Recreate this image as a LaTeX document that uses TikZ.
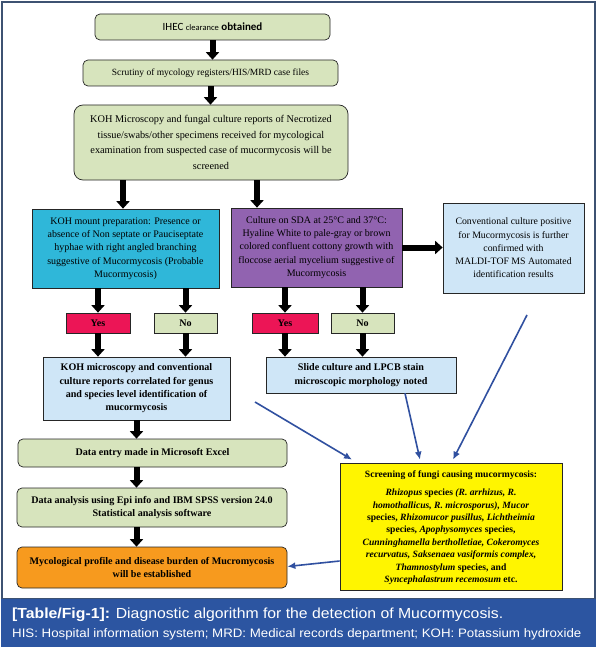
\documentclass[tikz,border=0pt]{standalone}
\usepackage{fontspec}
\setmainfont{Liberation Serif}
\newfontfamily\calfont{Carlito}
\newfontfamily\capfont[FakeStretch=1.08]{Liberation Sans}
\usetikzlibrary{arrows.meta,calc}
\definecolor{gbox}{HTML}{D7E4BD}
\definecolor{cyanbox}{HTML}{2FB7D9}
\definecolor{purplebox}{HTML}{9163B0}
\definecolor{lbbox}{HTML}{CFE6F7}
\definecolor{redbox}{HTML}{EC1556}
\definecolor{yelbox}{HTML}{FFF500}
\definecolor{orbox}{HTML}{F79A1E}
\definecolor{capblue}{HTML}{2C55A1}
\definecolor{framecol}{HTML}{3D5272}
\definecolor{bluearrow}{HTML}{3050A0}
\tikzset{
  box/.style={draw=black!85, line width=0.7pt, align=center, inner sep=2pt},
  rbox/.style={box, rounded corners=5pt},
  blk/.style={line width=6pt, black, -{Triangle[width=13pt,length=7.5pt]}},
  blu/.style={line width=1.6pt, bluearrow, -{Latex[length=8pt,width=7pt]}},
  ftxt/.style={font=\fontsize{10}{13.3}\selectfont},
  btxt/.style={font=\bfseries\fontsize{10.1}{13.3}\selectfont},
}
\begin{document}
\begin{tikzpicture}[x=1pt,y=-1pt]
\useasboundingbox (0,0) rectangle (597,650);
\fill[white] (0,0) rectangle (597,650);
\draw[framecol, line width=1.4pt] (2,2) rectangle (595,599);
\fill[capblue] (1.3,599) rectangle (595.7,647);

% boxes
\node[rbox, fill=gbox, minimum width=235pt, minimum height=26pt] (ihec) at (212.5,27)
  {\calfont\fontsize{11}{13}\selectfont IHEC {\fontsize{8.5}{10}\selectfont clearance} \textbf{obtained}};
\node[rbox, fill=gbox, font=\fontsize{9.5}{13}\selectfont, minimum width=255pt, minimum height=26pt] (scr) at (210.5,73)
  {Scrutiny of mycology registers/HIS/MRD case files};
\node[box, rounded corners=9pt, fill=gbox, font=\fontsize{10.3}{15.5}\selectfont, minimum width=274pt, minimum height=75pt] (kohm) at (211,142.5)
  {KOH Microscopy and fungal culture reports of Necrotized\\tissue/swabs/other specimens received for mycological\\examination from suspected case of mucormycosis will be\\screened};
\node[box, fill=cyanbox, ftxt, minimum width=187pt, minimum height=79pt] (mount) at (125.5,248.5)
  {KOH mount preparation: Presence or\\absence of Non septate or Pauciseptate\\hyphae with right angled branching\\suggestive of Mucormycosis (Probable\\Mucormycosis)};
\node[box, fill=purplebox, ftxt, minimum width=171pt, minimum height=79pt] (cult) at (316.5,247.5)
  {Culture on SDA at 25°C and 37°C:\\Hyaline White to pale-gray or brown\\colored confluent cottony growth with\\floccose aerial mycelium suggestive of\\Mucormycosis};
\node[box, fill=lbbox, font=\fontsize{9.8}{13.2}\selectfont, minimum width=141pt, minimum height=90pt] (conv) at (513.5,248)
  {Conventional culture positive\\for Mucormycosis is further\\confirmed with\\MALDI-TOF MS Automated\\identification results};
\node[box, fill=redbox, btxt, minimum width=64pt, minimum height=20pt] (yes1) at (98,323) {Yes};
\node[box, fill=gbox, btxt, minimum width=63pt, minimum height=20pt] (no1) at (185.5,323) {No};
\node[box, fill=redbox, btxt, minimum width=66pt, minimum height=20pt] (yes2) at (285,323) {Yes};
\node[box, fill=gbox, btxt, minimum width=63pt, minimum height=20pt] (no2) at (362.5,323) {No};
\node[box, fill=lbbox, btxt, minimum width=187pt, minimum height=63pt] (corr) at (136.5,388.5)
  {KOH microscopy and conventional\\culture reports correlated for genus\\and species level identification of\\mucormycosis};
\node[box, fill=lbbox, btxt, minimum width=190pt, minimum height=36pt] (slide) at (361,375)
  {Slide culture and LPCB stain\\microscopic morphology noted};
\node[rbox, fill=gbox, btxt, minimum width=269pt, minimum height=28pt] (entry) at (152.5,453)
  {Data entry made in Microsoft Excel};
\node[rbox, fill=gbox, btxt, minimum width=270pt, minimum height=39pt] (anal) at (152,507.5)
  {Data analysis using Epi info and IBM SPSS version 24.0\\Statistical analysis software};
\node[rbox, fill=orbox, btxt, minimum width=270pt, minimum height=41pt] (prof) at (152,567.5)
  {Mycological profile and disease burden of Mucromycosis\\will be established};
\node[box, fill=yelbox, minimum width=222pt, minimum height=127pt] (screen) at (451,526.5) {};
\node[anchor=north, align=center, inner sep=0pt, font=\bfseries\fontsize{9.6}{12.4}\selectfont] (screentxt) at ([yshift=-8pt]screen.north)
  {Screening of fungi causing mucormycosis:\\[5.6pt]
   \textit{Rhizopus} species \textit{(R. arrhizus, R.}\\
   \textit{homothallicus, R. microsporus), Mucor}\\
   species, \textit{Rhizomucor pusillus, Lichtheimia}\\
   species, \textit{Apophysomyces} species,\\
   \textit{Cunninghamella bertholletiae, Cokeromyces}\\
   \textit{recurvatus, Saksenaea vasiformis complex,}\\
   \textit{Thamnostylum} species, and\\
   \textit{Syncephalastrum recemosum} etc.};

% black block arrows
\draw[blk] (ihec.south) -- (ihec.south |- scr.north);
\draw[blk] (scr.south) -- (scr.south |- kohm.north);
\draw[blk] ([xshift=-88pt]kohm.south) -- ([xshift=-2.5pt]mount.north);
\draw[blk] ([xshift=46pt]kohm.south) -- ([xshift=-59.5pt]cult.north);
\draw[blk] (cult.east) -- (cult.east -| conv.west);
\draw[blk] (mount.south -| yes1.north) -- (yes1.north);
\draw[blk] (mount.south -| no1.north) -- (no1.north);
\draw[blk] (cult.south -| yes2.north) -- (yes2.north);
\draw[blk] (cult.south -| no2.north) -- (no2.north);
\draw[blk] (yes1.south) -- (yes1.south |- corr.north);
\draw[blk] (no1.south) -- (no1.south |- corr.north);
\draw[blk] (yes2.south) -- (yes2.south |- slide.north);
\draw[blk] (no2.south) -- (no2.south |- slide.north);
\draw[blk] (corr.south) -- (corr.south |- entry.north);
\draw[blk] (entry.south -| corr.south) -- (anal.north -| corr.south);
\draw[blk] (anal.south -| corr.south) -- (prof.north -| corr.south);

% blue arrows
\coordinate (b1) at (255,402);
\coordinate (b3) at (527,315);
\draw[blu] (b1) -- ([xshift=-99pt,yshift=3pt]screen.north);
\draw[blu] ([xshift=44pt]slide.south) -- ([xshift=-31pt,yshift=3pt]screen.north);
\draw[blu] (b3) -- ([xshift=2pt,yshift=3pt]screen.north);
\draw[blu] ([yshift=-34.5pt]screen.west) -- ([yshift=1pt]prof.east);

% caption
\node[anchor=base west, inner sep=0pt, text=white, font=\capfont\fontsize{14.6}{16}\selectfont] (cap1) at (12,618)
  {\textbf{[Table/Fig-1]:} Diagnostic algorithm for the detection of Mucormycosis.};
\node[anchor=base west, inner sep=0pt, text=white, font=\capfont\fontsize{12.3}{14}\selectfont] (cap2) at (12,637)
  {HIS: Hospital information system; MRD: Medical records department; KOH: Potassium hydroxide};
\end{tikzpicture}
\end{document}
